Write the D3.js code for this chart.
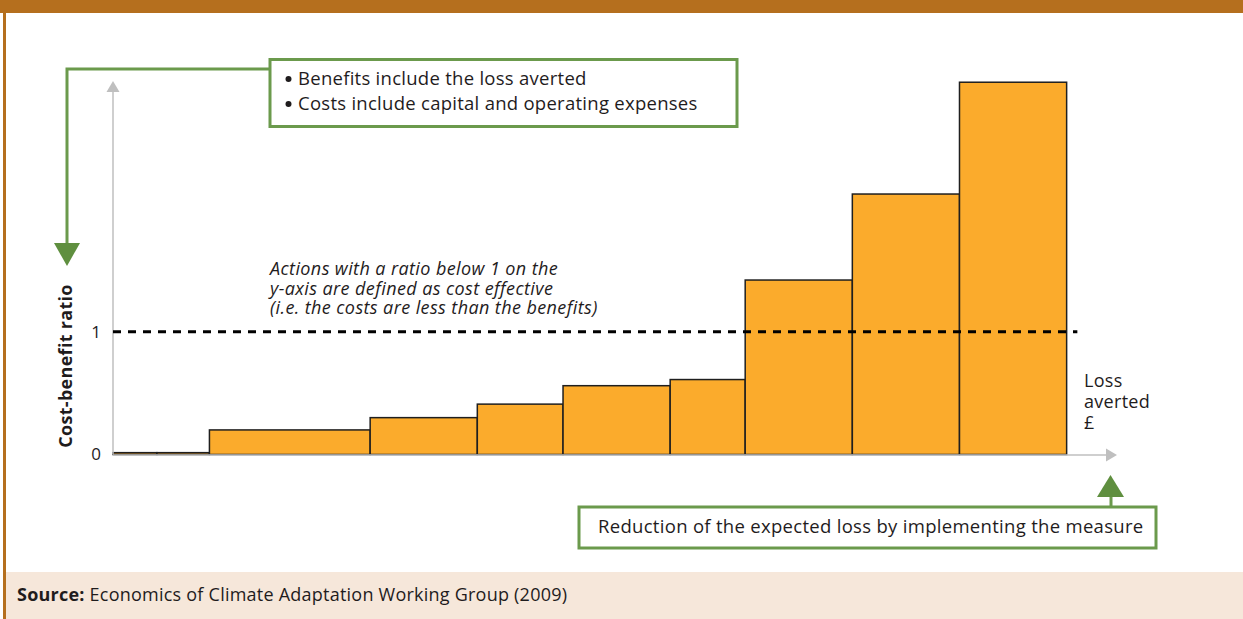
<!DOCTYPE html>
<html>
<head>
<meta charset="utf-8">
<script src="https://cdn.jsdelivr.net/npm/d3@7"></script>
<style>
  html, body { margin: 0; padding: 0; background: #fff; }
  svg { display: block; }
  text { font-family: "Open Sans", sans-serif; fill: #1f1c1d; }
</style>
</head>
<body>
<svg id="chart" width="1243" height="619"></svg>
<script>
// ---- data ----
const measures = ["M1", "M2", "M3", "M4", "M5", "M6", "M7", "M8", "M9", "M10"];
const lossAverted = [0.41, 0.49, 1.5, 1.0, 0.8, 1.0, 0.7, 1.0, 1.0, 1.0];
const costBenefit = [0.015, 0.015, 0.20, 0.30, 0.41, 0.56, 0.61, 1.42, 2.12, 3.03];
const yTickValues = [0, 1];
const threshold = 1;
const boxLines = ["Benefits include the loss averted", "Costs include capital and operating expenses"];
const noteLines = ["Actions with a ratio below 1 on the", "y-axis are defined as cost effective", "(i.e. the costs are less than the benefits)"];
const xAxisLabel = ["Loss", "averted", "\u00a3"];
const yAxisLabel = "Cost-benefit ratio";
const bottomNote = "Reduction of the expected loss by implementing the measure";
const sourceBold = "Source:";
const sourceText = " Economics of Climate Adaptation Working Group (2009)";

// ---- setup ----
const svg = d3.select("#chart");
const brown = "#b56f1e", green = "#6b9a4c", greenDark = "#5f8f3f", axisGray = "#bfbfbf";

// frame
svg.append("rect").attr("x", 0).attr("y", 0).attr("width", 1243).attr("height", 13).attr("fill", brown);
svg.append("rect").attr("x", 3).attr("y", 13).attr("width", 3).attr("height", 606).attr("fill", brown);
svg.append("rect").attr("x", 6).attr("y", 572).attr("width", 1237).attr("height", 47).attr("fill", "#f6e7da");
const src = svg.append("text").attr("x", 17).attr("y", 601).style("font-size", "18px").style("letter-spacing", "0.23px");
src.append("tspan").style("font-weight", "bold").text(sourceBold);
src.append("tspan").text(sourceText);

// scales
const x = d3.scaleLinear().domain([0, 9.37]).range([113, 1117]);
const y = d3.scaleLinear().domain([0, 3.04]).range([454.5, 81]);

const edges = [0];
lossAverted.forEach(w => edges.push(edges[edges.length - 1] + w));
const bars = measures.map((m, i) => ({ m, x0: edges[i], x1: edges[i + 1], v: costBenefit[i] }));

// bars
svg.append("g").selectAll("rect").data(bars).join("rect")
  .attr("x", d => x(d.x0))
  .attr("y", d => y(d.v))
  .attr("width", d => x(d.x1) - x(d.x0))
  .attr("height", d => y(0) - y(d.v))
  .attr("fill", "#fbab2c")
  .attr("stroke", "#1f1f1f")
  .attr("stroke-width", 1.5);

// axes lines with arrows
svg.append("line").attr("x1", x(0)).attr("x2", x(0)).attr("y1", y(0)).attr("y2", y(3.04) + 10)
  .attr("stroke", axisGray).attr("stroke-width", 1.5);
svg.append("path").attr("d", `M${x(0)},${y(3.04)} l-6.5,11 l13,0 z`).attr("fill", axisGray);
svg.append("line").attr("x1", x(0)).attr("x2", x(9.37) - 10).attr("y1", y(0) + 0.5).attr("y2", y(0) + 0.5)
  .attr("stroke", axisGray).attr("stroke-width", 1.5);
svg.append("path").attr("d", `M${x(9.37)},${y(0) + 0.5} l-11,-6.5 l0,13 z`).attr("fill", axisGray);

// y ticks
const yAxis = svg.append("g").attr("transform", `translate(${x(0)},0)`)
  .call(d3.axisLeft(y).tickValues(yTickValues).tickSize(0).tickPadding(12).tickFormat(d3.format("d")));
yAxis.select(".domain").remove();
yAxis.selectAll("text").style("font-size", "17px").style("font-family", "'Open Sans', sans-serif").attr("fill", "#1f1c1d");

// threshold line
svg.append("line").attr("x1", x(0)).attr("x2", x(9.0)).attr("y1", y(threshold)).attr("y2", y(threshold))
  .attr("stroke", "#000").attr("stroke-width", 3).attr("stroke-dasharray", "8,7");

// note
svg.append("text").attr("x", 270).attr("y", 275).style("font-size", "18px").style("font-style", "italic")
  .style("letter-spacing", "0.4px")
  .selectAll("tspan").data(noteLines).join("tspan")
  .attr("x", 270).attr("dy", (d, i) => i === 0 ? 0 : 19.5).text(d => d);

// y label
svg.append("text").attr("transform", "translate(72,366) rotate(-90)").attr("text-anchor", "middle")
  .style("font-size", "18px").style("font-weight", "bold").style("letter-spacing", "0.3px").text(yAxisLabel);

// x label
svg.append("text").attr("x", 1084).attr("y", 387).style("font-size", "18px").style("letter-spacing", "0.3px")
  .selectAll("tspan").data(xAxisLabel).join("tspan")
  .attr("x", 1084).attr("dy", (d, i) => i === 0 ? 0 : 21).text(d => d);

// top box
svg.append("polyline").attr("points", `270,69 67,69 67,244`).attr("fill", "none").attr("stroke", green).attr("stroke-width", 3);
svg.append("path").attr("d", "M54,243 L80,243 L67,266 z").attr("fill", greenDark);
svg.append("rect").attr("x", 270).attr("y", 59.5).attr("width", 467).attr("height", 67)
  .attr("fill", "#fff").attr("stroke", green).attr("stroke-width", 3);
svg.append("g").selectAll("circle").data(boxLines).join("circle")
  .attr("cx", 288.5).attr("cy", (d, i) => 79 + i * 25).attr("r", 3).attr("fill", "#1f1c1d");
svg.append("text").style("font-size", "18.5px").style("letter-spacing", "0.27px")
  .selectAll("tspan").data(boxLines).join("tspan")
  .attr("x", 298).attr("y", (d, i) => 85 + i * 25).text(d => d);

// bottom box
svg.append("line").attr("x1", 1111).attr("x2", 1111).attr("y1", 494).attr("y2", 507).attr("stroke", green).attr("stroke-width", 3);
svg.append("path").attr("d", "M1097,497 L1124,497 L1110.5,475 z").attr("fill", greenDark);
svg.append("rect").attr("x", 579).attr("y", 507).attr("width", 577).attr("height", 41)
  .attr("fill", "#fff").attr("stroke", green).attr("stroke-width", 3);
svg.append("text").attr("x", 598).attr("y", 533).style("font-size", "18.5px").style("letter-spacing", "0.3px").text(bottomNote);
</script>
</body>
</html>
